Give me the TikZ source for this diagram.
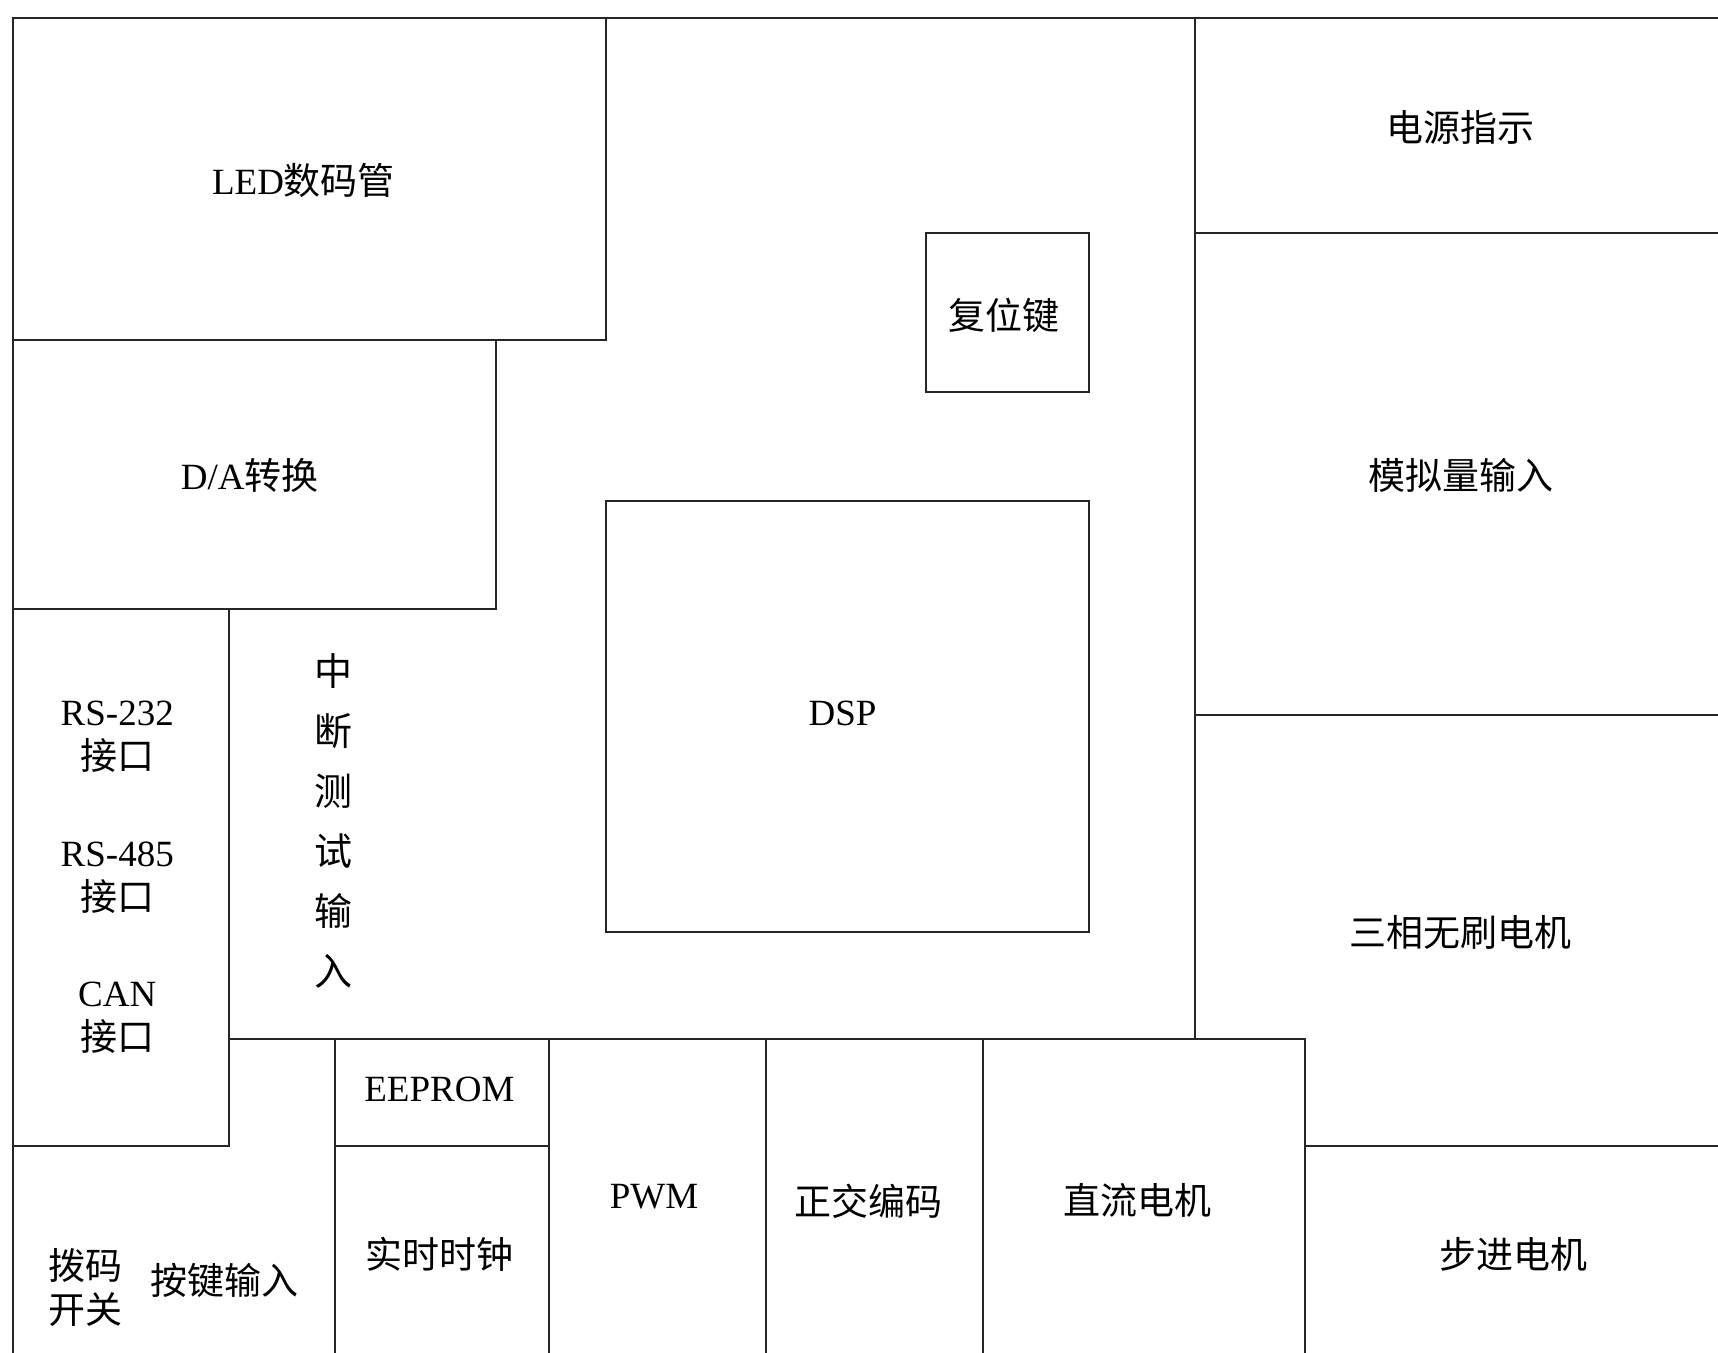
\documentclass[tikz,border=0pt]{standalone}
\usepackage{fontspec}
\setmainfont{Liberation Serif}
\newfontfamily\cjk{Noto Sans CJK SC}
\begin{document}
\begin{tikzpicture}[x=0.54785pt,y=-0.54785pt, line width=1pt,
  lbl/.style={font=\fontsize{18.5}{22}\selectfont, align=center, inner sep=0pt},
  wall/.style={draw=black!85, line width=1pt}]
\useasboundingbox (0,0) rectangle (1568,1234);
\begin{scope}
\clip (0,0) rectangle (1568,1234);
% outer border (cut at right and bottom)
\draw[wall] (12,1240) -- (12,16) -- (1575,16);
% left column
\draw[wall] (12,310) -- (553,310) -- (553,16);
\draw[wall] (12,556) -- (453,556) -- (453,310);
\draw[wall] (12,1046) -- (209,1046) -- (209,556);
% central area
\draw[wall] (209,948) -- (1191,948) -- (1191,1240);
\draw[wall] (1091,16) -- (1091,948);
\draw[wall] (845,213) rectangle (994,358);
\draw[wall] (553,457) rectangle (994,851);
% right column
\draw[wall] (1091,213) -- (1575,213);
\draw[wall] (1091,653) -- (1575,653);
\draw[wall] (1191,1046) -- (1575,1046);
% bottom row
\draw[wall] (306,948) -- (306,1240);
\draw[wall] (306,1046) -- (501,1046);
\draw[wall] (501,948) -- (501,1240);
\draw[wall] (699,948) -- (699,1240);
\draw[wall] (897,948) -- (897,1240);
\end{scope}
% labels
\node[lbl] (led) at (277,165) {LED{\cjk 数码管}};
\node[lbl] (da) at (228,434) {D/A{\cjk 转换}};
\node[lbl] (reset) at (916,288) {\cjk 复位键};
\node[lbl] (dsp) at (769,651) {DSP};
\node[lbl] (pwr) at (1333,116) {\cjk 电源指示};
\node[lbl] (ana) at (1333,434) {\cjk 模拟量输入};
\node[lbl] (bldc) at (1333,851) {\cjk 三相无刷电机};
\node[lbl] (rs232) at (107,672) {RS-232\\{\cjk 接口}};
\node[lbl] (rs485) at (107,801) {RS-485\\{\cjk 接口}};
\node[lbl] (can) at (107,929) {CAN\\{\cjk 接口}};
\node[lbl, font=\fontsize{19}{30}\selectfont] (irq) at (304,749) {\cjk 中\\\cjk 断\\\cjk 测\\\cjk 试\\\cjk 输\\\cjk 入};
\node[lbl] (eeprom) at (401,994) {EEPROM};
\node[lbl] (rtc) at (401,1145) {\cjk 实时时钟};
\node[lbl] (pwm) at (597,1092) {PWM};
\node[lbl] (qep) at (793,1096) {\cjk 正交编码};
\node[lbl] (dc) at (1038,1096) {\cjk 直流电机};
\node[lbl] (step) at (1381,1145) {\cjk 步进电机};
\node[lbl] (dip) at (78,1175) {\cjk 拨码\\\cjk 开关};
\node[lbl] (key) at (205,1169) {\cjk 按键输入};
\end{tikzpicture}
\end{document}
